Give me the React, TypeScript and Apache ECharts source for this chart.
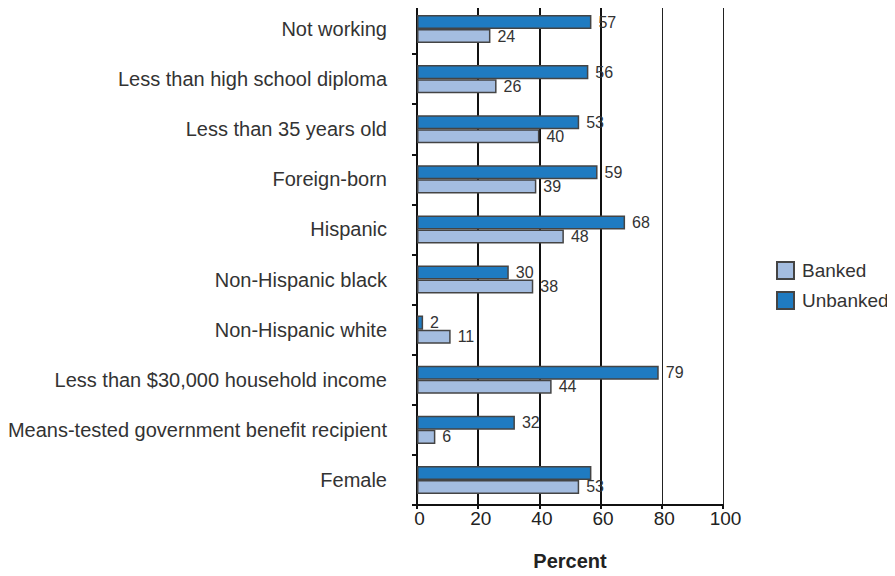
import React, { useEffect, useRef } from "react";
import * as echarts from "echarts";

const categories = [
  "Not working",
  "Less than high school diploma",
  "Less than 35 years old",
  "Foreign-born",
  "Hispanic",
  "Non-Hispanic black",
  "Non-Hispanic white",
  "Less than $30,000 household income",
  "Means-tested government benefit recipient",
  "Female",
];
const unbanked = [57, 56, 53, 59, 68, 30, 2, 79, 32, 57];
const banked = [24, 26, 40, 39, 48, 38, 11, 44, 6, 53];
const unlabeledUnbanked = [9];
const xTicks = [0, 20, 40, 60, 80, 100];
const heavyGrid = [20, 40, 60];

const FONT = "'Liberation Sans', Arial, Helvetica, sans-serif";

export default function App() {
  const ref = useRef<HTMLDivElement>(null);
  useEffect(() => {
    if (!ref.current) return;
    const chart = echarts.init(ref.current, null, { renderer: "svg" });
    const labelStyle = {
      show: true,
      position: "right" as const,
      distance: 7,
      color: "#333",
      fontSize: 16,
      fontFamily: FONT,
    };
    chart.setOption({
      animation: false,
      textStyle: { fontFamily: FONT },
      legend: {
        orient: "vertical",
        left: 771,
        top: 256,
        itemWidth: 17,
        itemHeight: 17,
        itemGap: 11,
        icon: "rect",
        data: ["Banked", "Unbanked"],
        textStyle: { fontSize: 19, color: "#333", fontFamily: FONT, padding: [0, 0, 0, 3] },
      },
      grid: { left: 417, right: 172, top: 4, bottom: 69, containLabel: false },
      xAxis: {
        type: "value",
        min: xTicks[0],
        max: xTicks[xTicks.length - 1],
        interval: 20,
        name: "Percent",
        nameLocation: "middle",
        nameGap: 46,
        nameTextStyle: { fontSize: 20, color: "#222", fontWeight: "bold", fontFamily: FONT },
        axisLine: { show: true, lineStyle: { color: "#111", width: 2 } },
        axisTick: { show: true, length: 4, lineStyle: { color: "#111", width: 2 } },
        axisLabel: { fontSize: 19, color: "#222", margin: 4, fontFamily: FONT, padding: [0, 0, 0, 5] },
        splitLine: { show: true, lineStyle: { color: "#222", width: 1 } },
      },
      yAxis: {
        type: "category",
        inverse: true,
        data: categories,
        axisLine: { show: true, lineStyle: { color: "#111", width: 2 } },
        axisTick: { show: true, length: 5, lineStyle: { color: "#111", width: 2 } },
        axisLabel: { fontSize: 20, color: "#333", margin: 30, fontFamily: FONT, padding: [6, 0, 0, 0] },
      },
      series: [
        {
          name: "Unbanked",
          type: "bar",
          barGap: "0%",
          barCategoryGap: "44%",
          data: unbanked.map((v, i) =>
            unlabeledUnbanked.includes(i) ? { value: v, label: { show: false } } : v
          ),
          itemStyle: { color: "#1f7bc1", borderColor: "#444", borderWidth: 1.5 },
          label: labelStyle,
        },
        {
          name: "Banked",
          type: "bar",
          data: banked,
          itemStyle: { color: "#a4bde0", borderColor: "#444", borderWidth: 1.5 },
          label: labelStyle,
          markLine: {
            silent: true,
            z: 1,
            symbol: "none",
            label: { show: false },
            lineStyle: { color: "#111", width: 2, type: "solid" },
            data: heavyGrid.map((v) => ({ xAxis: v })),
          },
        },
      ],
    });
    return () => chart.dispose();
  }, []);
  return <div ref={ref} style={{ width: 895, height: 576, margin: -8 }} />;
}
